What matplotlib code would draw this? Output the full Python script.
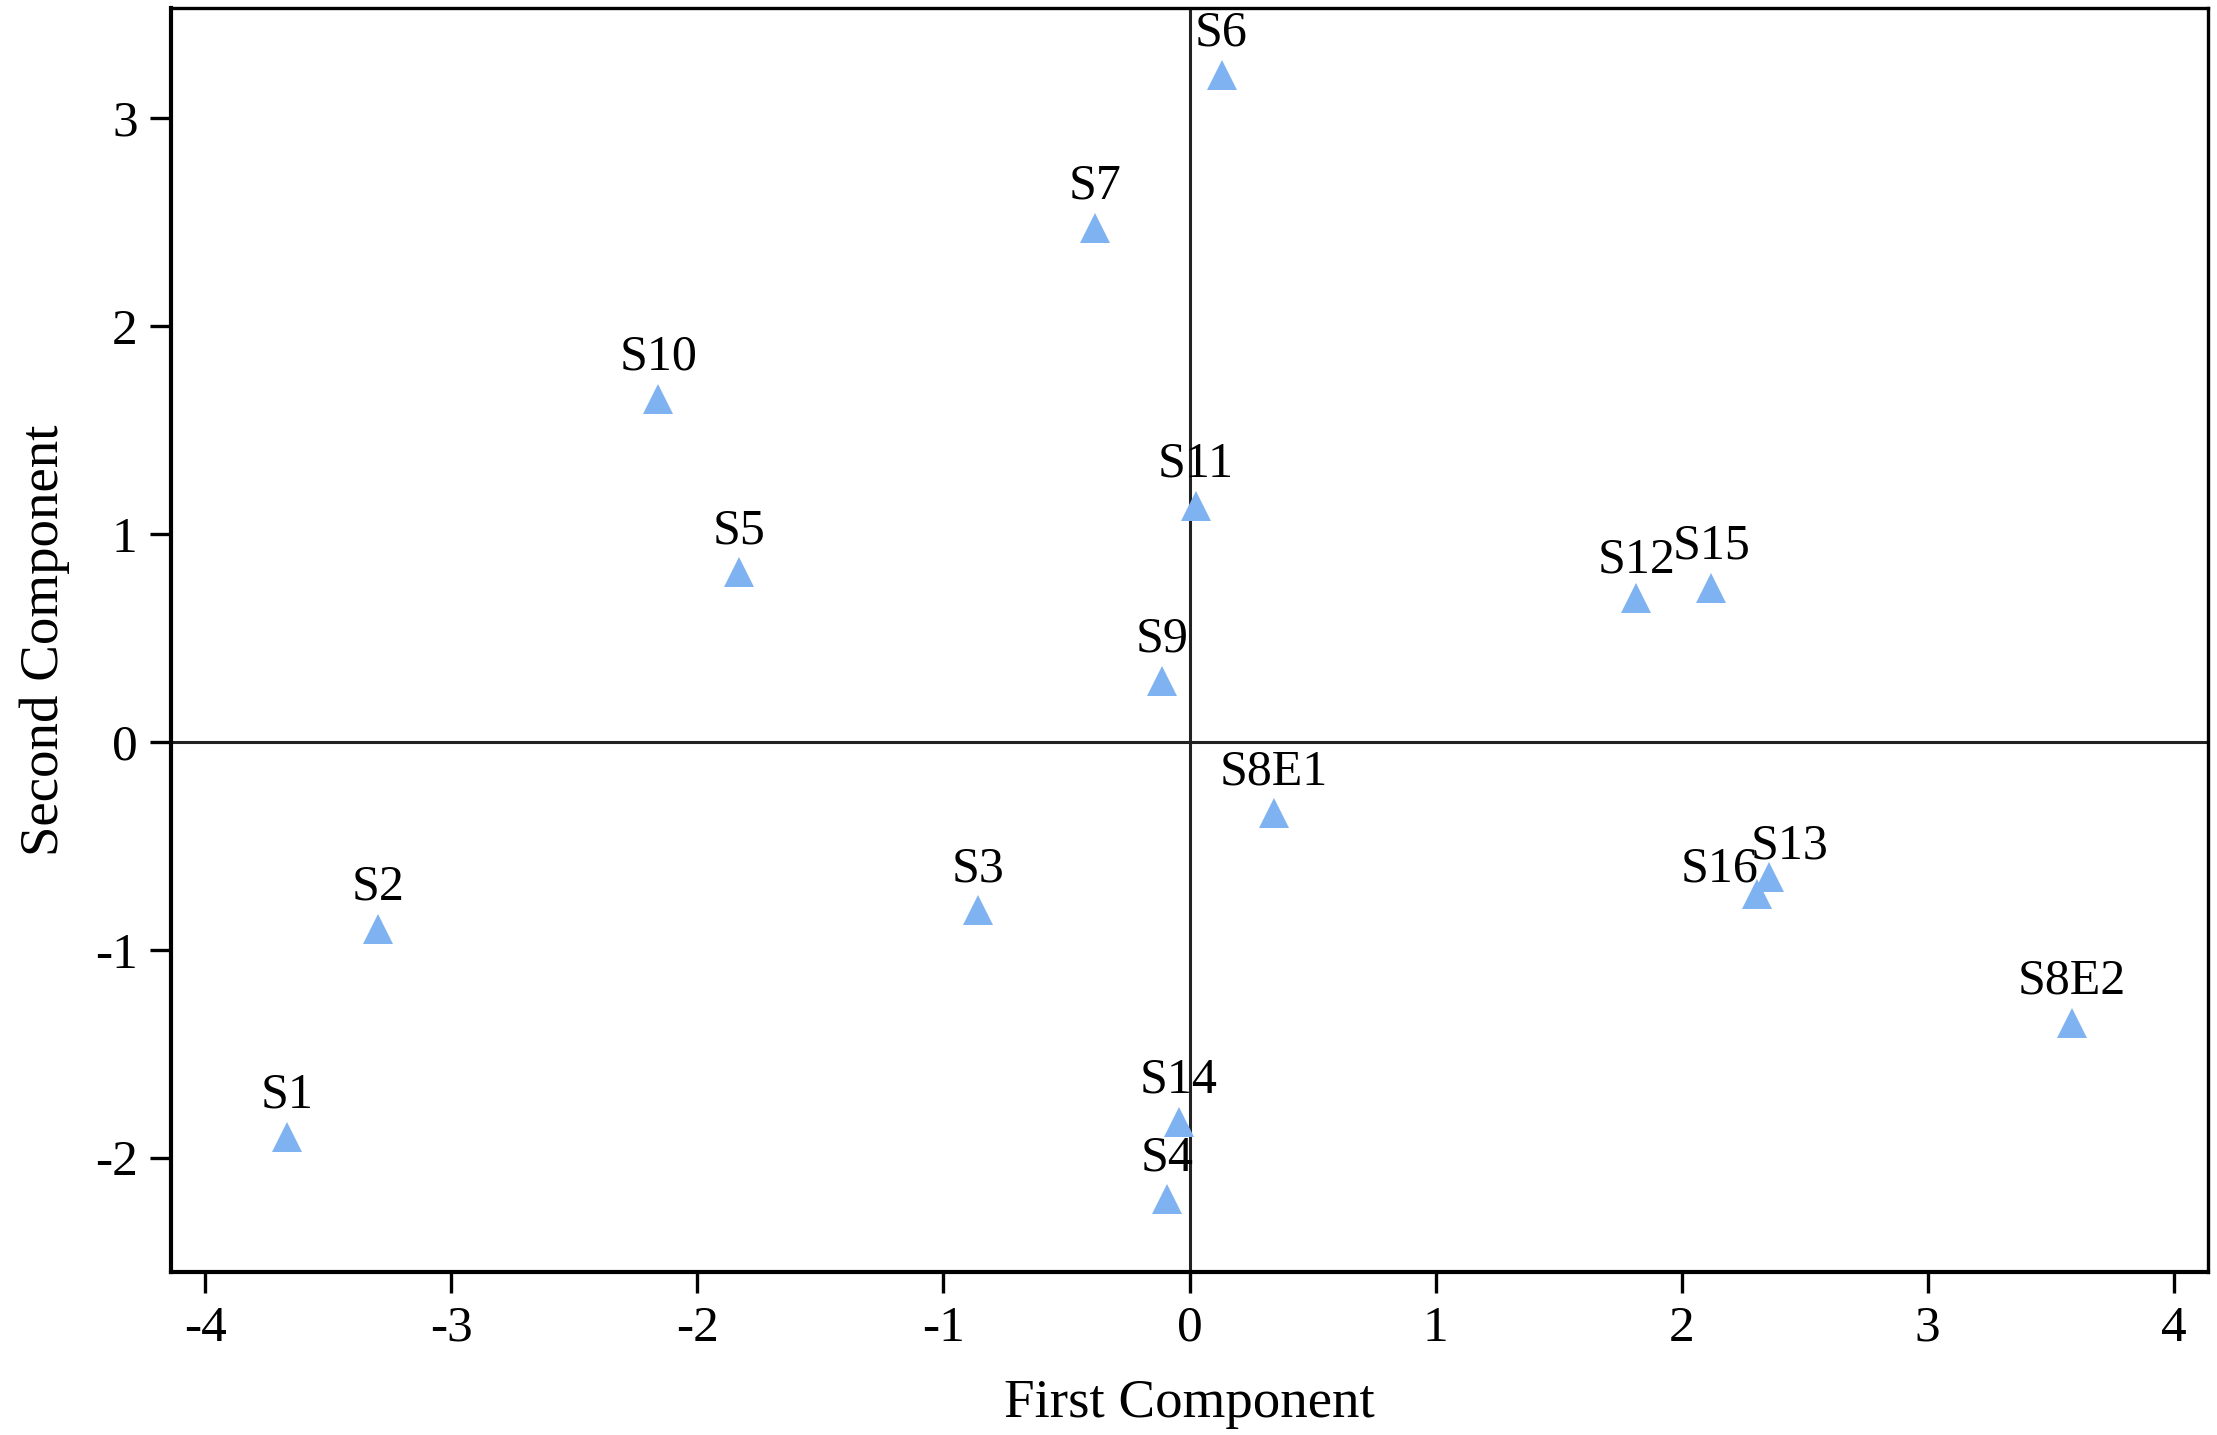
import matplotlib
matplotlib.use("Agg")
import matplotlib.pyplot as plt

plt.rcParams['font.family'] = ['Liberation Serif', 'DejaVu Serif']
plt.rcParams['axes.unicode_minus'] = False

# sample scores on the first two components
names = ['S1', 'S2', 'S3', 'S4', 'S5', 'S6', 'S7', 'S8E1', 'S8E2', 'S9',
         'S10', 'S11', 'S12', 'S13', 'S14', 'S15', 'S16']
pc1 = [-3.67, -3.30, -0.86, -0.09, -1.83, 0.13, -0.385, 0.343, 3.586, -0.112,
       -2.16, 0.025, 1.815, 2.356, -0.044, 2.12, 2.305]
pc2 = [-1.90, -0.90, -0.81, -2.20, 0.815, 3.21, 2.473, -0.343, -1.35, 0.295,
       1.65, 1.135, 0.694, -0.65, -1.827, 0.74, -0.73]

xticks = [-4, -3, -2, -1, 0, 1, 2, 3, 4]
yticks = [-2, -1, 0, 1, 2, 3]

# labels that are nudged to avoid overlap (points)
nudge = {'S13': (15, 13), 'S16': (-27, 9), 'S12': (0, 18)}

fig = plt.figure(figsize=(22.17, 14.35), dpi=100)
ax = fig.add_axes([0.0771, 0.1136, 0.9189, 0.8808])

ax.axhline(0, color='#222222', lw=2.2, zorder=1)
ax.axvline(0, color='#222222', lw=2.2, zorder=1)

ax.plot(pc1, pc2, linestyle='none', marker='^', markersize=22,
        color='#7fb2f0', markeredgewidth=0, zorder=3)

for n, x, y in zip(names, pc1, pc2):
    dx, dy = nudge.get(n, (0, 21))
    ax.annotate(n, (x, y), xytext=(dx, dy), textcoords='offset points',
                ha='center', va='baseline', fontsize=36, zorder=4)

ax.set_xlim(-4.14, 4.14)
ax.set_ylim(-2.55, 3.53)
ax.set_xticks(xticks)
ax.set_yticks(yticks)
ax.tick_params(direction='out', length=15, width=2.4, labelsize=37, pad=9)

for side in ['top', 'right']:
    ax.spines[side].set_linewidth(2.4)
for side in ['left', 'bottom']:
    ax.spines[side].set_linewidth(3.0)

ax.set_xlabel('First Component', fontsize=39.5, labelpad=19)
ax.set_ylabel('Second Component', fontsize=39.5, labelpad=18)

fig.savefig('out.png', dpi=100)
